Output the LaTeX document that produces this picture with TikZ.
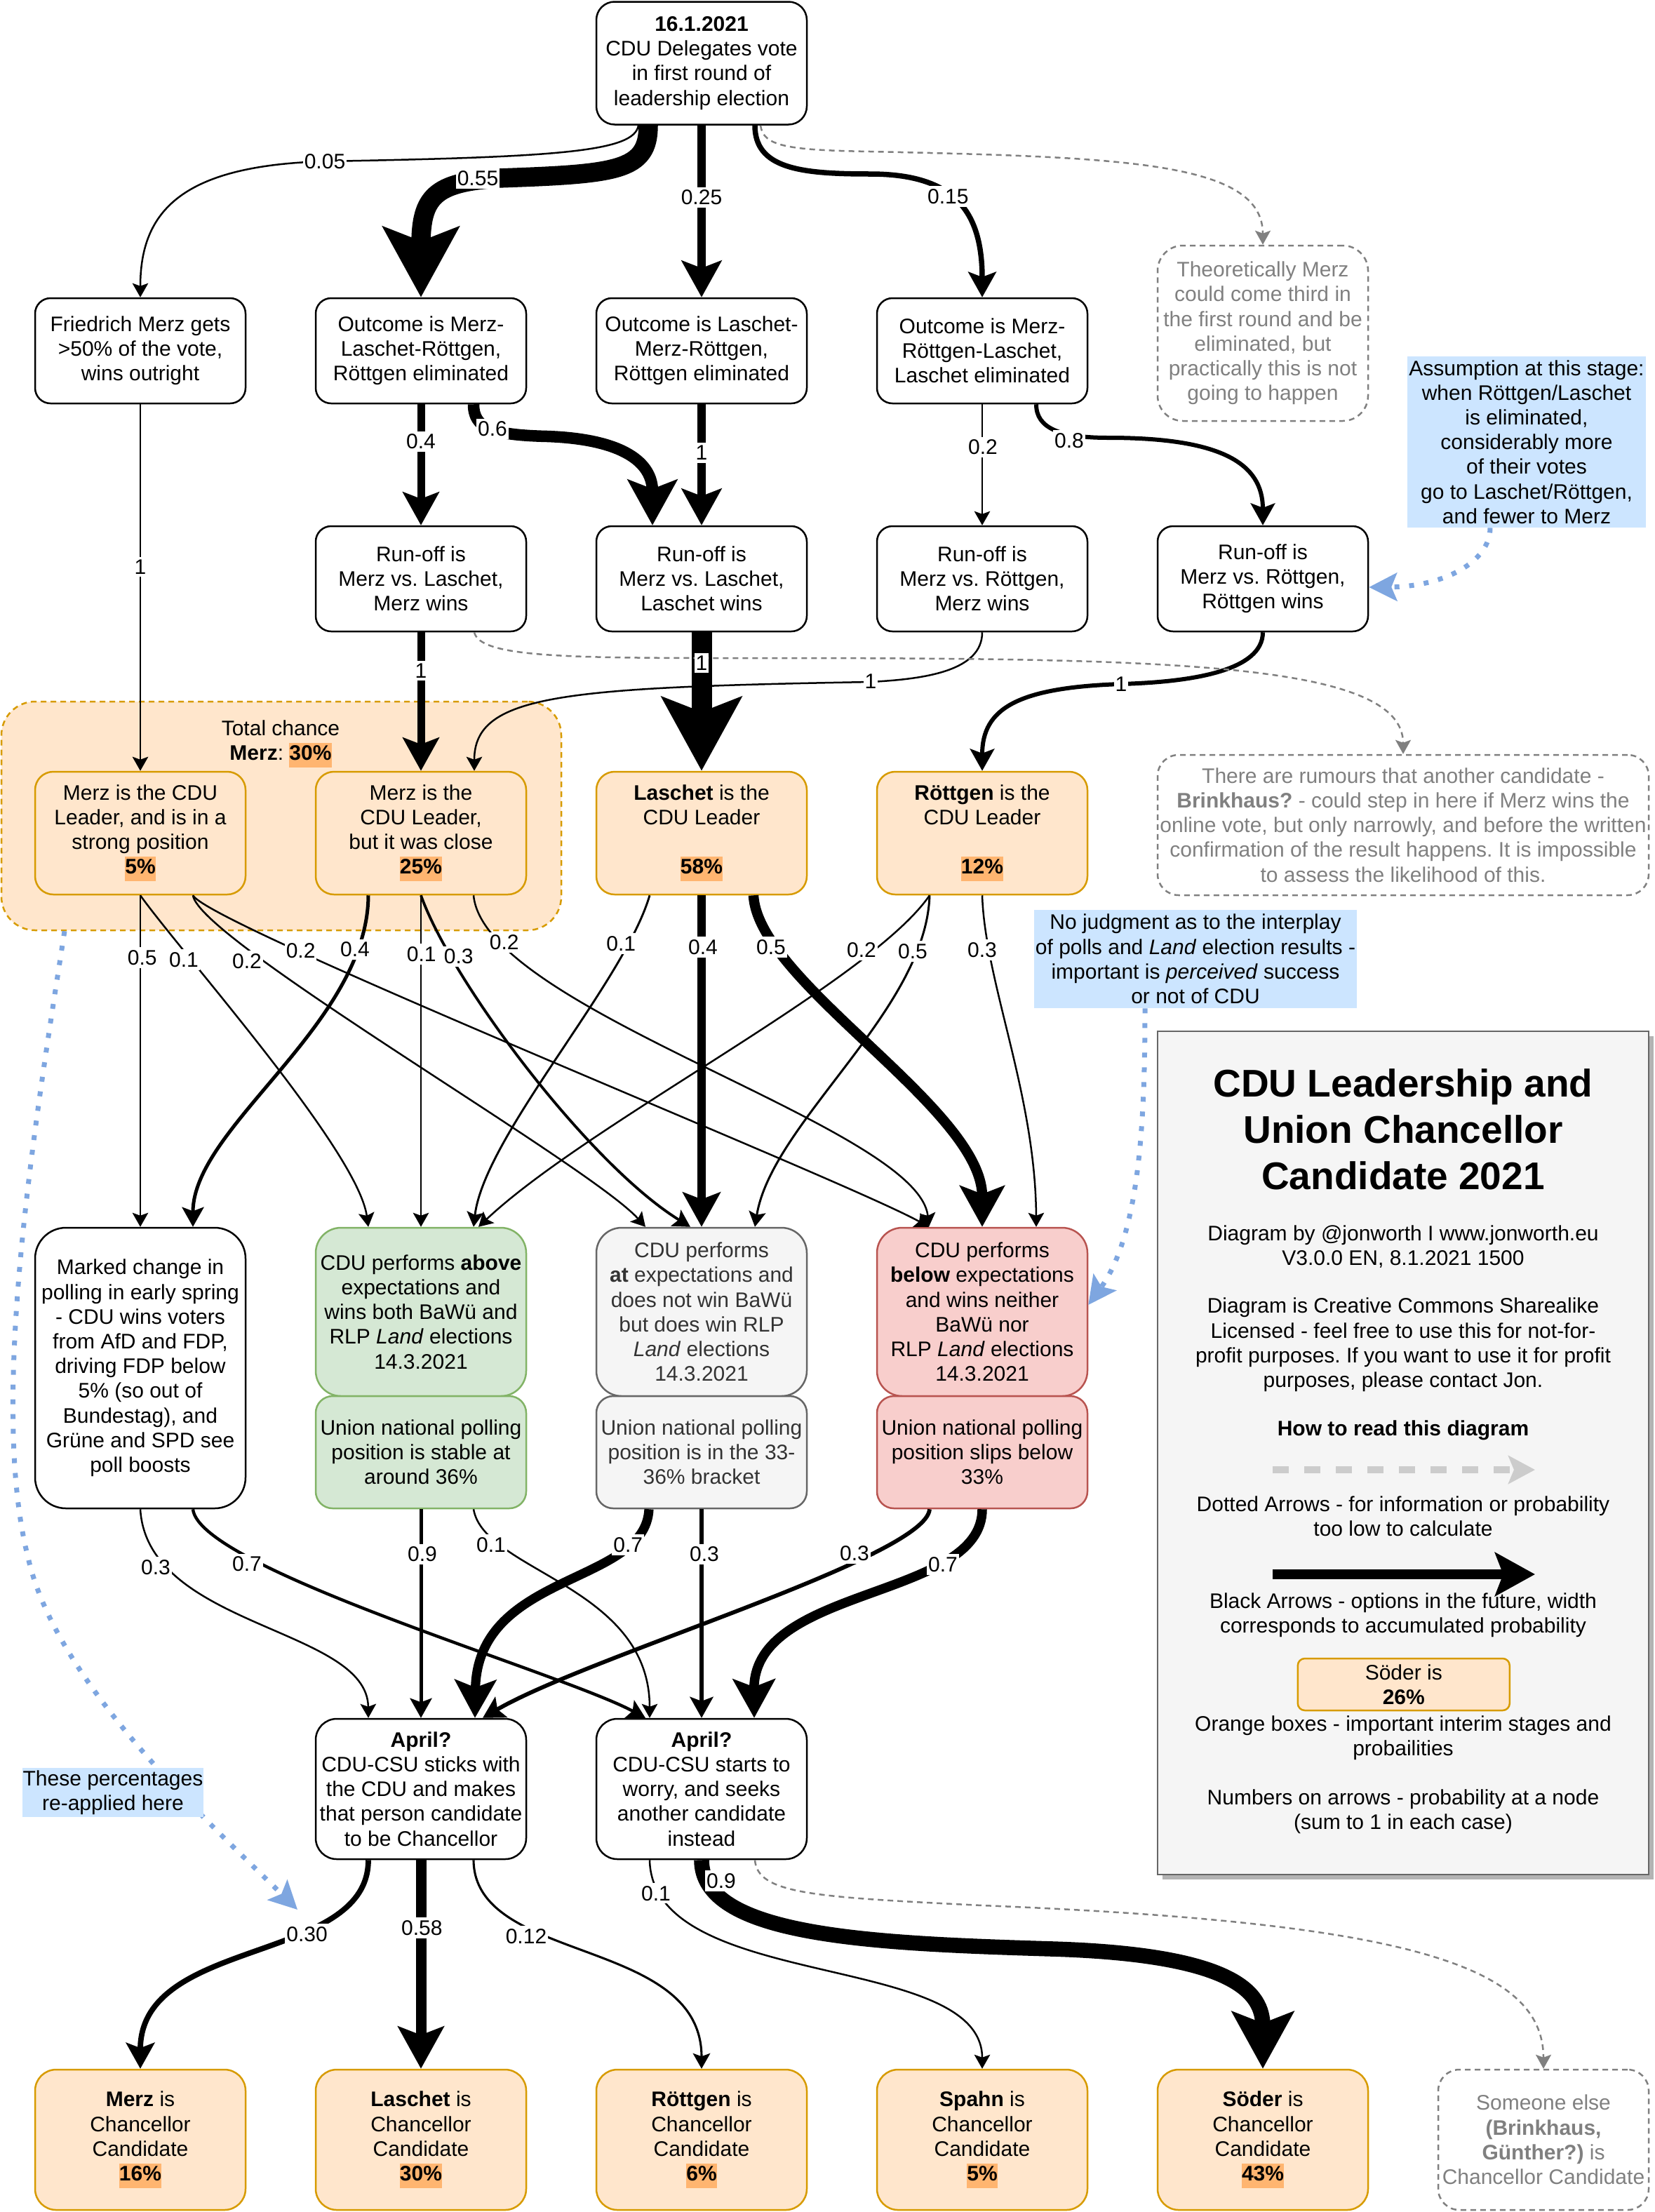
\documentclass[tikz,border=0pt]{standalone}
\usepackage{fontspec}
\setmainfont{Liberation Sans}
\usetikzlibrary{arrows.meta}
\definecolor{ofill}{HTML}{FFE6CC}
\definecolor{odraw}{HTML}{D79B00}
\definecolor{pctbg}{HTML}{FFB570}
\definecolor{gfill}{HTML}{D5E8D4}
\definecolor{gdraw}{HTML}{82B366}
\definecolor{sfill}{HTML}{F5F5F5}
\definecolor{sdraw}{HTML}{666666}
\definecolor{stext}{HTML}{333333}
\definecolor{rfill}{HTML}{F8CECC}
\definecolor{rdraw}{HTML}{B85450}
\definecolor{bnote}{HTML}{CCE5FF}
\definecolor{barrow}{HTML}{7EA6E0}
\definecolor{dgray}{HTML}{808080}
\definecolor{lgray}{HTML}{CCCCCC}
\definecolor{shadowc}{HTML}{B3B3B3}
\newcommand\pct[1]{{\setlength{\fboxsep}{0pt}\colorbox{pctbg}{\strut\textbf{#1}}}}
\begin{document}
\begin{tikzpicture}[x=1pt,y=-1pt,
  basetext/.style={font=\fontsize{15}{17.6}\selectfont\frenchspacing, align=center, inner sep=0pt},
  box/.style={basetext, draw, line width=1.25pt, rounded corners=11pt, minimum width=150pt, minimum height=75pt, fill=white},
  obox/.style={box, fill=ofill, draw=odraw},
  gbox/.style={box, fill=gfill, draw=gdraw},
  sbox/.style={box, fill=sfill, draw=sdraw, text=stext},
  rbox/.style={box, fill=rfill, draw=rdraw},
  dnote/.style={box, draw=dgray, text=dgray, dash pattern=on 4pt off 3pt},
  bluenote/.style={basetext, fill=bnote},
  lbl/.style={basetext, fill=white, inner xsep=1pt, inner ysep=2pt},
  conn/.style={line width=#1pt, -{Stealth[length=6pt 3.2, width=7pt 3.4, inset=1.2pt 0.64]}},
  gdash/.style={draw=dgray, line width=1.25pt, dash pattern=on 4pt off 3pt, -{Stealth[length=10pt, width=11pt, inset=2pt]}},
  bdot/.style={draw=barrow, line width=3.5pt, dash pattern=on 3.5pt off 7pt, -{Stealth[length=20pt, width=20pt, inset=4pt]}},
]
\useasboundingbox (0,0) rectangle (1179,1576.5);

% group box
\node[obox, dash pattern=on 4pt off 3pt, minimum width=399pt, minimum height=163pt, rounded corners=24pt] (grp) at (200.5,581.5) {};

% row 1
\node[box, minimum height=87.5pt, rounded corners=13pt] (top) at (500,45) {\textbf{16.1.2021}\\CDU Delegates vote\\in first round of\\leadership election};

% row 2
\node[box] (fm) at (100,250) {Friedrich Merz gets\\>50\% of the vote,\\wins outright};
\node[box] (mlr) at (300,250) {Outcome is Merz-\\Laschet-Röttgen,\\Röttgen eliminated};
\node[box] (lmr) at (500,250) {Outcome is Laschet-\\Merz-Röttgen,\\Röttgen eliminated};
\node[box] (mrl) at (700,250) {Outcome is Merz-\\Röttgen-Laschet,\\Laschet eliminated};
\node[dnote, minimum height=125pt, rounded corners=18pt] (theo) at (900,237.5) {Theoretically Merz\\could come third in\\the first round and be\\eliminated, but\\practically this is not\\going to happen};

% row 3
\node[box] (ro1) at (300,412.5) {Run-off is\\Merz vs.\ Laschet,\\Merz wins};
\node[box] (ro2) at (500,412.5) {Run-off is\\Merz vs.\ Laschet,\\Laschet wins};
\node[box] (ro3) at (700,412.5) {Run-off is\\Merz vs.\ Röttgen,\\Merz wins};
\node[box] (ro4) at (900,412.5) {Run-off is\\Merz vs.\ Röttgen,\\Röttgen wins};
\node[bluenote, minimum width=170pt, minimum height=122pt] (assum) at (1088,315) {Assumption at this stage:\\when Röttgen/Laschet\\is eliminated,\\considerably more\\of their votes\\go to Laschet/Röttgen,\\and fewer to Merz};

% row 4
\node[basetext] (grplbl) at (200,530) {Total chance\\\textbf{Merz}: \pct{30\%}};
\node[obox, minimum height=87.5pt, rounded corners=13pt] (ms) at (100,593.75) {Merz is the CDU\\Leader, and is in a\\strong position\\\pct{5\%}};
\node[obox, minimum height=87.5pt, rounded corners=13pt] (mc) at (300,593.75) {Merz is the\\CDU Leader,\\but it was close\\\pct{25\%}};
\node[obox, minimum height=87.5pt, rounded corners=13pt] (ll) at (500,593.75) {\textbf{Laschet} is the\\CDU Leader\\\mbox{}\\\pct{58\%}};
\node[obox, minimum height=87.5pt, rounded corners=13pt] (rl) at (700,593.75) {\textbf{Röttgen} is the\\CDU Leader\\\mbox{}\\\pct{12\%}};
\node[dnote, minimum width=350pt, minimum height=100pt, rounded corners=15pt] (rum) at (1000,588) {There are rumours that another candidate -\\\textbf{Brinkhaus?} - could step in here if Merz wins the\\online vote, but only narrowly, and before the written\\confirmation of the result happens. It is impossible\\to assess the likelihood of this.};
\node[bluenote, minimum width=230pt, minimum height=70pt] (nojud) at (852,683.5) {No judgment as to the interplay\\of polls and \textit{Land} election results -\\important is \textit{perceived} success\\or not of CDU};

% row 5
\node[box, minimum height=200pt, rounded corners=22pt] (mark) at (100,975) {Marked change in\\polling in early spring\\- CDU wins voters\\from AfD and FDP,\\driving FDP below\\5\% (so out of\\Bundestag), and\\Grüne and SPD see\\poll boosts};
\node[gbox, minimum height=120pt, rounded corners=18pt] (above) at (300,935) {CDU performs \textbf{above}\\expectations and\\wins both BaWü and\\RLP \textit{Land} elections\\14.3.2021};
\node[gbox, minimum height=80pt, rounded corners=12pt] (abovep) at (300,1035) {Union national polling\\position is stable at\\around 36\%};
\node[sbox, minimum height=120pt, rounded corners=18pt] (atexp) at (500,935) {CDU performs\\\textbf{at} expectations and\\does not win BaWü\\but does win RLP\\\textit{Land} elections\\14.3.2021};
\node[sbox, minimum height=80pt, rounded corners=12pt] (atp) at (500,1035) {Union national polling\\position is in the 33-\\36\% bracket};
\node[rbox, minimum height=120pt, rounded corners=18pt] (belexp) at (700,935) {CDU performs\\\textbf{below} expectations\\and wins neither\\BaWü nor\\RLP \textit{Land} elections\\14.3.2021};
\node[rbox, minimum height=80pt, rounded corners=12pt] (belowp) at (700,1035) {Union national polling\\position slips below\\33\%};

% legend
\node[fill=shadowc, minimum width=350pt, minimum height=601pt, inner sep=0pt] (lshadow) at (1003.5,1039) {};
\node[draw=sdraw, fill=sfill, line width=1.25pt, minimum width=350pt, minimum height=601pt, inner sep=0pt] (legend) at (1000,1035.5) {};
\node[basetext, font=\fontsize{27.5}{33}\selectfont\bfseries] (ltitle) at (1000,805) {CDU Leadership and\\Union Chancellor\\Candidate 2021};
\node[basetext] (lby) at (1000,888.5) {Diagram by @jonworth I www.jonworth.eu\\V3.0.0 EN, 8.1.2021 1500};
\node[basetext] (lcc) at (1000,958.5) {Diagram is Creative Commons Sharealike\\Licensed - feel free to use this for not-for-\\profit purposes. If you want to use it for profit\\purposes, please contact Jon.};
\node[basetext, font=\fontsize{15}{17.6}\selectfont\bfseries] (lhow) at (1000,1019.6) {How to read this diagram};
\coordinate (lda) at (907,1047.5);
\coordinate (ldb) at (1094,1047.5);
\draw[lgray, line width=4.6pt, dash pattern=on 11.5pt off 11pt, -{Stealth[length=19pt, width=20pt, inset=4pt]}] (lda) -- (ldb);
\node[basetext] (ldot) at (1000,1080.8) {Dotted Arrows - for information or probability\\too low to calculate};
\coordinate (lba) at (907,1122);
\coordinate (lbb) at (1094,1122);
\draw[conn=7] (lba) -- (lbb);
\node[basetext] (lblack) at (1000,1151) {Black Arrows - options in the future, width\\corresponds to accumulated probability};
\node[obox, minimum width=151pt, minimum height=37pt, rounded corners=5pt] (lsoder) at (1000.4,1200.5) {Söder is\\\textbf{26\%}};
\node[basetext] (lorange) at (1000,1238.5) {Orange boxes - important interim stages and\\probailities};
\node[basetext] (lnum) at (1000,1291) {Numbers on arrows - probability at a node\\(sum to 1 in each case)};

% row 6
\node[box, minimum height=100pt, rounded corners=15pt] (sticks) at (300,1275) {\textbf{April?}\\CDU-CSU sticks with\\the CDU and makes\\that person candidate\\to be Chancellor};
\node[box, minimum height=100pt, rounded corners=15pt] (worry) at (500,1275) {\textbf{April?}\\CDU-CSU starts to\\worry, and seeks\\another candidate\\instead};

% row 7
\node[obox, minimum height=100pt, rounded corners=15pt] (cm) at (100,1525) {\textbf{Merz} is\\Chancellor\\Candidate\\\pct{16\%}};
\node[obox, minimum height=100pt, rounded corners=15pt] (cl) at (300,1525) {\textbf{Laschet} is\\Chancellor\\Candidate\\\pct{30\%}};
\node[obox, minimum height=100pt, rounded corners=15pt] (cr) at (500,1525) {\textbf{Röttgen} is\\Chancellor\\Candidate\\\pct{6\%}};
\node[obox, minimum height=100pt, rounded corners=15pt] (cs) at (700,1525) {\textbf{Spahn} is\\Chancellor\\Candidate\\\pct{5\%}};
\node[obox, minimum height=100pt, rounded corners=15pt] (csd) at (900,1525) {\textbf{Söder} is\\Chancellor\\Candidate\\\pct{43\%}};
\node[dnote, minimum height=100pt, rounded corners=15pt] (cse) at (1100,1525) {Someone else\\\textbf{(Brinkhaus,}\\\textbf{Günther?)} is\\Chancellor Candidate};

% ---- edges row 1 -> 2
\draw[conn=1.25] ([xshift=-45pt]top.south) .. controls (452,108) and (400,112) .. (231,115) .. controls (130,118) and (100,150) .. (fm.north);
\draw[conn=13.75] ([xshift=-38pt]top.south) .. controls (462,122) and (440,124) .. (355,127) .. controls (310,130) and (300,140) .. (mlr.north);
\draw[conn=6.25] (top.south) -- (lmr.north);
\draw[conn=3.75] ([xshift=38pt]top.south) .. controls (538,120) and (570,124) .. (620,124) .. controls (680,124) and (700,150) .. (mrl.north);
\draw[gdash] ([xshift=42pt]top.south) .. controls (544,104) and (560,107) .. (620,108) .. controls (800,112) and (900,115) .. (theo.north);

% row 2 -> 3
\draw[conn=5.5] (mlr.south) -- (ro1.north);
\draw[conn=8.25] ([xshift=37.5pt]mlr.south) .. controls (337.5,305) and (350,310) .. (390,311) .. controls (445,313) and (465,330) .. ([xshift=-35pt]ro2.north);
\draw[conn=6.25] (lmr.south) -- (ro2.north);
\draw[conn=1.25] (mrl.south) -- (ro3.north);
\draw[conn=3] ([xshift=38.5pt]mrl.south) .. controls (738.5,305) and (755,312) .. (790,312) .. controls (870,312) and (900,330) .. (ro4.north);
\draw[conn=1.25] (fm.south) -- (ms.north);
\draw[bdot] ([xshift=-26pt]assum.south) .. controls (1062,400) and (1030,418) .. ([yshift=-6pt]ro4.east);

% row 3 -> 4
\draw[conn=5.5] (ro1.south) -- (mc.north);
\draw[conn=14.5] (ro2.south) -- (ll.north);
\draw[conn=1.25] (ro3.south) .. controls (700,478) and (660,484) .. (620,486) .. controls (400,490) and (338,495) .. ([xshift=38pt]mc.north);
\draw[conn=3] (ro4.south) .. controls (900,478) and (850,486) .. (799,487.5) .. controls (725,490) and (700,505) .. (rl.north);
\draw[gdash] ([xshift=38pt]ro1.south) .. controls (342,468) and (400,469) .. (520,469) .. controls (820,469) and (1000,470) .. (rum.north);

% row 4 -> 5
\draw[conn=1.25] (ms.south) -- (mark.north);
\draw[conn=1.25] (ms.south) .. controls (130,680) and (255,820) .. ([xshift=-37.5pt]above.north);
\draw[conn=1.25] ([xshift=37.5pt]ms.south) .. controls (142,670) and (420,830) .. ([xshift=-40pt]atexp.north);
\draw[conn=1.25] ([xshift=37.5pt]ms.south) .. controls (150,660) and (600,840) .. ([xshift=-38pt]belexp.north);
\draw[conn=2.5] ([xshift=-37.5pt]mc.south) .. controls (262,730) and (137.5,803) .. ([xshift=37.5pt]mark.north);
\draw[conn=1.25] (mc.south) -- (above.north);
\draw[conn=1.9] (mc.south) .. controls (322,700) and (420,830) .. ([xshift=-8pt]atexp.north);
\draw[conn=1.25] ([xshift=37.5pt]mc.south) .. controls (345,720) and (655,803) .. ([xshift=-38pt]belexp.north);
\draw[conn=1.45] ([xshift=-37pt]ll.south) .. controls (445,700) and (345,810) .. ([xshift=37.5pt]above.north);
\draw[conn=5.8] (ll.south) -- (atexp.north);
\draw[conn=7.25] ([xshift=37pt]ll.south) .. controls (540,700) and (700,790) .. (belexp.north);
\draw[conn=1.25] ([xshift=-37.5pt]rl.south) .. controls (620,700) and (420,800) .. ([xshift=41pt]above.north);
\draw[conn=1.5] ([xshift=-37.5pt]rl.south) .. controls (660,720) and (550,800) .. ([xshift=38pt]atexp.north);
\draw[conn=1.25] (rl.south) .. controls (702,700) and (738,780) .. ([xshift=38.5pt]belexp.north);
\draw[bdot] ([xshift=-36pt]nojud.south) .. controls (816,800) and (812,880) .. ([yshift=5pt]belexp.east);

% row 5 -> 6
\draw[conn=1.25] (mark.south) .. controls (105,1160) and (262,1160) .. ([xshift=-37.5pt]sticks.north);
\draw[conn=2.2] ([xshift=37.5pt]mark.south) .. controls (142,1118) and (400,1192) .. ([xshift=-40pt]worry.north);
\draw[conn=2.5] (abovep.south) -- (sticks.north);
\draw[conn=1.25] ([xshift=37.5pt]abovep.south) .. controls (345,1120) and (463,1130) .. ([xshift=-37pt]worry.north);
\draw[conn=6.6] ([xshift=-37.5pt]atp.south) .. controls (460,1130) and (340,1120) .. ([xshift=38.5pt]sticks.north);
\draw[conn=2.8] (atp.south) -- (worry.north);
\draw[conn=2.9] ([xshift=-37.5pt]belowp.south) .. controls (660,1110) and (420,1180) .. ([xshift=44pt]sticks.north);
\draw[conn=6.75] (belowp.south) .. controls (700,1140) and (537,1130) .. ([xshift=37.5pt]worry.north);

% row 6 -> 7
\draw[conn=3.9] ([xshift=-37.5pt]sticks.south) .. controls (262.5,1400) and (100,1380) .. (cm.north);
\draw[conn=7.5] (sticks.south) -- (cl.north);
\draw[conn=1.55] ([xshift=37.5pt]sticks.south) .. controls (338,1400) and (500,1380) .. (cr.north);
\draw[conn=1.25] ([xshift=-37pt]worry.south) .. controls (465,1420) and (700,1390) .. (cs.north);
\draw[conn=10.8] (worry.south) .. controls (500,1380) and (620,1385) .. (750,1389) .. controls (880,1393) and (900,1420) .. (csd.north);
\draw[gdash] ([xshift=38pt]worry.south) .. controls (540,1350) and (580,1352) .. (700,1358) .. controls (1000,1370) and (1100,1400) .. (cse.north);

% dotted from group to re-applied
\coordinate (pcttip) at (212,1361);
\draw[bdot] ([xshift=-154.5pt]grp.south) .. controls (25,800) and (-8,1000) .. (20,1110) .. controls (40,1200) and (150,1300) .. (pcttip);
\node[bluenote, minimum width=129pt, minimum height=35pt] (pctnote) at (80.5,1277.5) {These percentages\\re-applied here};

% labels
\node[lbl] (l1) at (231.5,115) {0.05};
\node[lbl] (l2) at (340.5,127) {0.55};
\node[lbl] (l3) at (500,140.6) {0.25};
\node[lbl] (l4) at (675.7,140) {0.15};
\node[lbl] (l5) at (300,314.7) {0.4};
\node[lbl] (l6) at (351,305.8) {0.6};
\node[lbl] (l7) at (500,322.6) {1};
\node[lbl] (l8) at (700.5,318.6) {0.2};
\node[lbl] (l9) at (762,314) {0.8};
\node[lbl] (l10) at (100,404) {1};
\node[lbl] (l11) at (300,478) {1};
\node[lbl] (l12) at (500,472.5) {1};
\node[lbl] (l13) at (620.5,485.8) {1};
\node[lbl] (l14) at (799,487.5) {1};
\node[lbl] (l15) at (101.4,682.5) {0.5};
\node[lbl] (l16) at (131,684) {0.1};
\node[lbl] (l17) at (176,685) {0.2};
\node[lbl] (l18) at (214.3,677.5) {0.2};
\node[lbl] (l19) at (253,676.7) {0.4};
\node[lbl] (l20) at (300.4,680) {0.1};
\node[lbl] (l21) at (326.9,681.7) {0.3};
\node[lbl] (l22) at (359.4,671.7) {0.2};
\node[lbl] (l23) at (442.6,672.5) {0.1};
\node[lbl] (l24) at (501,675) {0.4};
\node[lbl] (l25) at (549.5,675) {0.5};
\node[lbl] (l26) at (614,677) {0.2};
\node[lbl] (l27) at (650.5,678) {0.5};
\node[lbl] (l28) at (700,677) {0.3};
\node[lbl] (l29) at (111,1117) {0.3};
\node[lbl] (l30) at (176,1114.7) {0.7};
\node[lbl] (l31) at (301,1107.6) {0.9};
\node[lbl] (l32) at (350,1101) {0.1};
\node[lbl] (l33) at (447.6,1101) {0.7};
\node[lbl] (l34) at (502,1107.6) {0.3};
\node[lbl] (l35) at (609,1107) {0.3};
\node[lbl] (l36) at (672,1115) {0.7};
\node[lbl] (l37) at (218.8,1378.5) {0.30};
\node[lbl] (l38) at (300.7,1374) {0.58};
\node[lbl] (l39) at (375,1380) {0.12};
\node[lbl] (l40) at (467.5,1349.4) {0.1};
\node[lbl] (l41) at (514,1340.5) {0.9};
\end{tikzpicture}
\end{document}
